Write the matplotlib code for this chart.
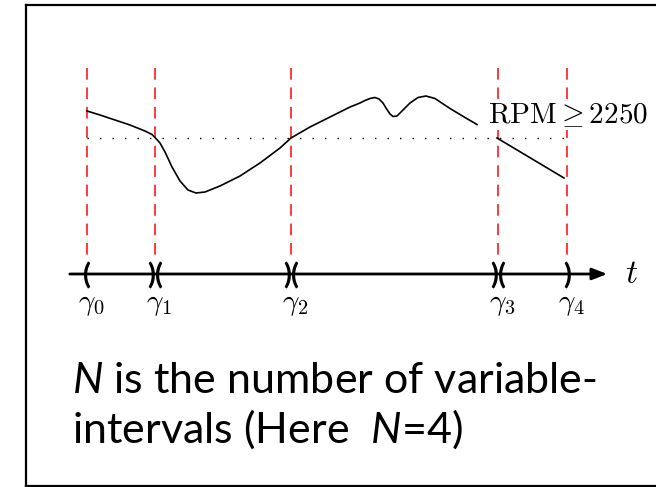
import numpy as np
import matplotlib
matplotlib.use("Agg")
from matplotlib import pyplot as plt

plt.rcParams['mathtext.fontset'] = 'custom'
plt.rcParams['mathtext.rm'] = 'Lato'
plt.rcParams['mathtext.it'] = 'Lato:italic'

# engine speed trace (t in s, rpm)
t_seg1 = [0, 1.3, 2.8, 4.3, 5.8, 6.5, 6.8, 7.3, 7.8, 8.5, 9.3, 10.1, 10.9, 11.8, 13.3,
          15.3, 17.3, 19.3, 20.4, 22.3, 24.3, 26.3, 27.3, 27.8, 28.3, 28.8, 29.2,
          29.6, 29.9, 30.3, 30.6, 31.0, 31.6, 32.3, 33.1, 33.9, 34.8, 36.3, 37.8, 39.0]
rpm_seg1 = [2520, 2480, 2430, 2380, 2320, 2285, 2255, 2200, 2110, 1960, 1820, 1730, 1700,
            1710, 1770, 1870, 2000, 2150, 2250, 2360, 2460, 2560, 2600, 2625, 2645, 2655,
            2640, 2600, 2550, 2490, 2465, 2470, 2530, 2600, 2655, 2670, 2645, 2545,
            2455, 2385]
t_seg2 = [41.0, 47.7]
rpm_seg2 = [2250, 1850]

gammas = [0, 6.8, 20.4, 41.1, 48.0]
gamma_labels = [r'$\gamma_{%d}$' % i for i in range(len(gammas))]
brackets = ['(', ')(', ')(', ')(', ')']
threshold = 2250
threshold_label = r'$\mathrm{RPM} \geq 2250$'

W, H = 656, 487
fig = plt.figure(figsize=(W / 100, H / 100), dpi=100)
ax = fig.add_axes([0, 0, 1, 1])
ax.set_xlim(-8.7, 56.9)
ax.set_ylim(2250 - (H - 138) * 10, 2250 + 138 * 10)
ax.axis('off')

def fy(p):
    return 1 - p / H

xt = ax.get_xaxis_transform()

# interval borders
for g in gammas:
    ax.plot([g, g], [fy(68), fy(262)], transform=xt, color='#ff3b3b', lw=1.4,
            dashes=(6, 4))

ax.plot(t_seg1, rpm_seg1, color='black', lw=1.2)
ax.plot(t_seg2, rpm_seg2, color='black', lw=1.2)
ax.plot([gammas[0], gammas[-1]], [threshold, threshold], color='black', lw=1,
        linestyle=(0, (1, 8)))
ax.text(40.1, 2480, threshold_label, math_fontfamily='cm', fontsize=21,
        va='center', ha='left', zorder=5,
        bbox=dict(facecolor='white', edgecolor='none', pad=1))

# time axis
ax.annotate('', xy=(52.3, fy(274)), xytext=(-2.0, fy(274)), xycoords=xt,
            arrowprops=dict(arrowstyle='-|>,head_length=0.9,head_width=0.35',
                            color='black', lw=2))
ax.text(53.8, fy(283), r'$t$', math_fontfamily='cm', fontsize=24,
        transform=xt, ha='left', va='baseline')
for g, lab, br in zip(gammas, gamma_labels, brackets):
    ax.text(g, fy(276), br, transform=xt, ha='center', va='center',
            fontsize=21, fontweight='bold', family='Lato')
    ax.text(g + 0.4, fy(310), lab, math_fontfamily='cm', fontsize=21,
            transform=xt, ha='center', va='baseline')

# frame
for xs, ys in [([26, 26], [5, 486]), ([26, W], [5, 5]), ([26, W], [486, 486])]:
    fig.add_artist(plt.Line2D([x / W for x in xs], [fy(y) for y in ys],
                              transform=fig.transFigure, color='black', lw=1.6))

fig.text(72 / W, fy(393), r'$N$ is the number of variable-', fontsize=31,
         family='Lato', va='baseline', ha='left')
fig.text(72 / W, fy(443), r'intervals (Here  $N$=4)', fontsize=31,
         family='Lato', va='baseline', ha='left')

fig.savefig('out.png', dpi=100)
